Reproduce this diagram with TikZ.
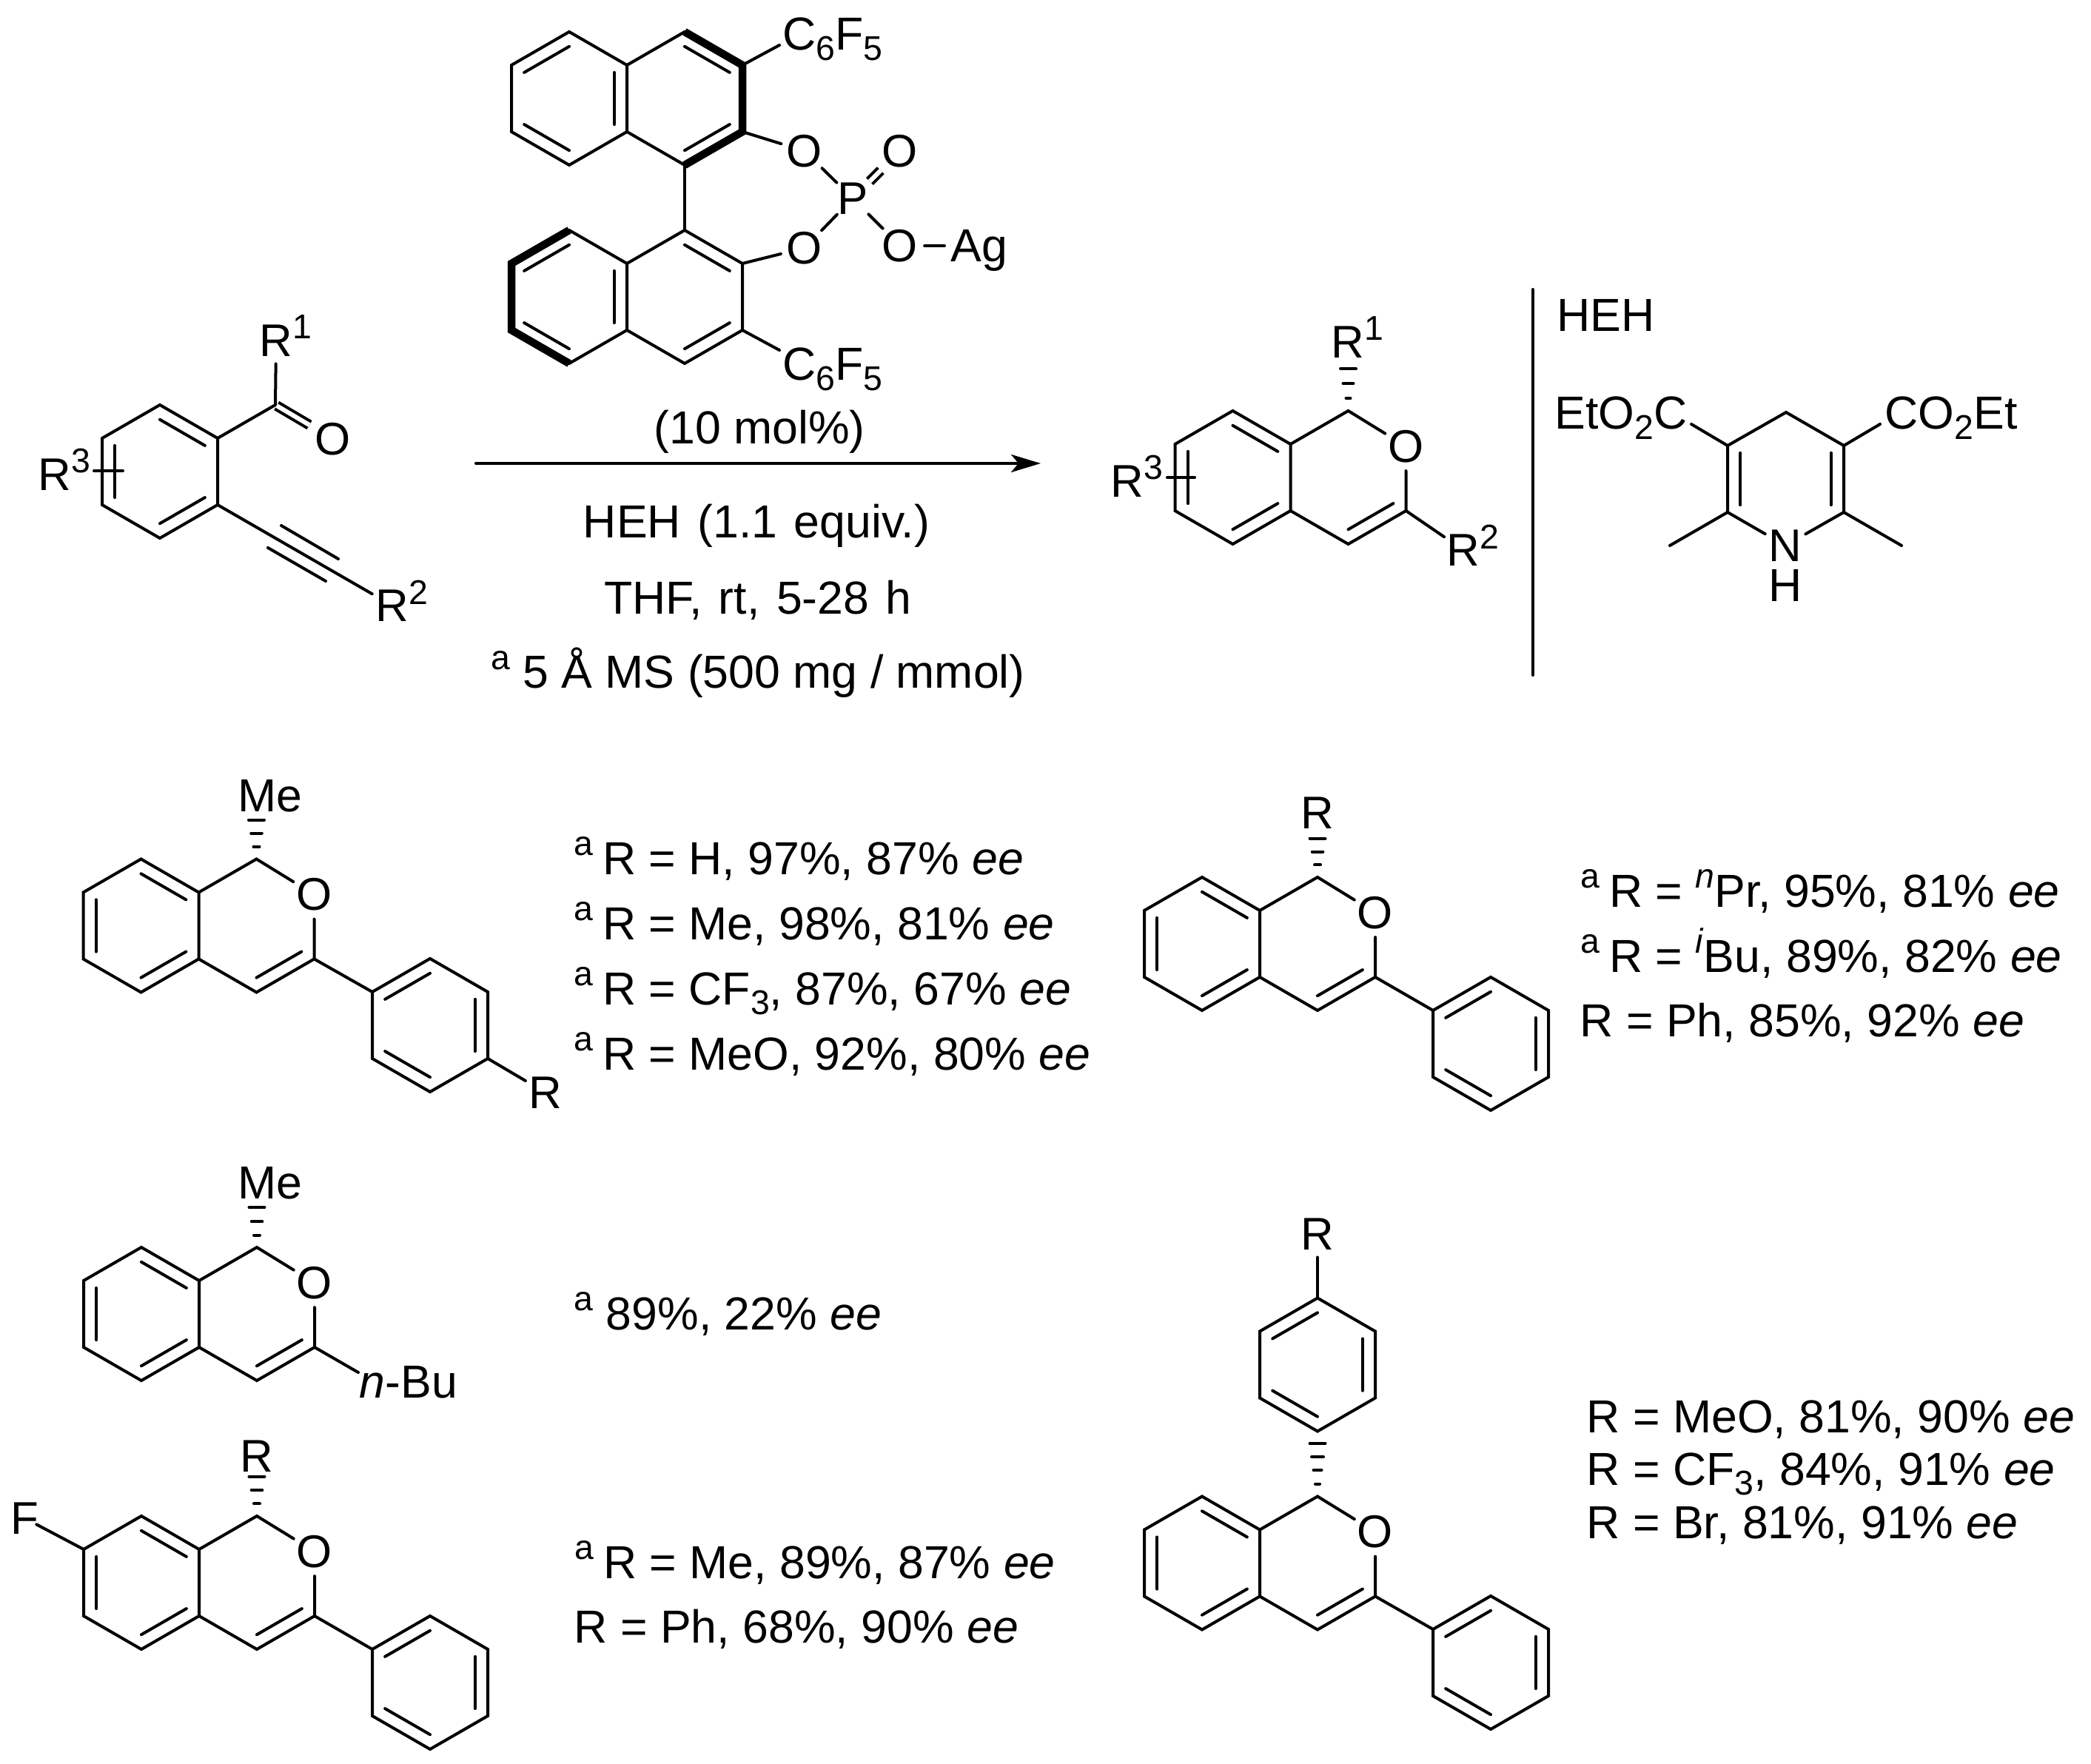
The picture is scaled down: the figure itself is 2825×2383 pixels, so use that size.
\documentclass[tikz,border=0pt]{standalone}
\usepackage{fontspec}
\setmainfont{Liberation Sans}
\usetikzlibrary{calc,arrows.meta}
\def\raisedtxt#1{\raisebox{0.41em}{\fontsize{13.2}{16}\selectfont #1}}
\def\lowtxt#1{\raisebox{-0.21em}{\fontsize{13.2}{16}\selectfont #1}}
\def\marka{\raisedtxt{a}\hspace{0.2em}}
\def\condfont{\fontsize{17.8}{21}\selectfont\spaceskip=0.36em\relax}
\tikzset{
	bond/.style={line width=0.04cm, line cap=round, line join=miter},
	boldbond/.style={line width=0.105cm, line join=miter},
	dblbond/.style={line width=0.04cm, double, double distance=0.06cm, shorten <=0.02cm, shorten >=0.04cm},
	hashline/.style={line width=0.04cm, line cap=round},
	txt/.style={font=\fontsize{17.8}{21}\selectfont, inner sep=0},
	condtxt/.style={font=\condfont, inner sep=0},
	atom/.style={font=\fontsize{17.6}{21}\selectfont, inner sep=0, circle},
	supn/.style={font=\fontsize{13.2}{16}\selectfont, inner sep=0}
}
\def\innerline(#1)(#2)(#3){\draw[bond] ($(#1)!0.78!(#2)$) -- ($(#1)!0.78!(#3)$);}
\def\hashbond(#1)#2{\foreach \dy/\hw in {#2}{\draw[hashline] ($(#1)+(-\hw,-\dy)$) -- ($(#1)+(\hw,-\dy)$);}}
\def\rgroup#1(#2,#3)#4{\node[atom] (#1) at (#2,#3) {R}; \node[supn] (#1n) at ($(#1)+(35,-18)$) {#4};}
\def\phenyl#1(#2,#3){
	\begin{scope}[shift={(#2,#3)}, name prefix=#1-]
		\coordinate (ctr) at (0,0);
		\coordinate (a) at (0,-90);
		\coordinate (b) at (78,-45);
		\coordinate (c) at (78,45);
		\coordinate (d) at (0,90);
		\coordinate (e) at (-78,45);
		\coordinate (f) at (-78,-45);
		\draw[bond] (a) -- (b) -- (c) -- (d) -- (e) -- (f) -- cycle;
		\innerline(ctr)(a)(f)
		\innerline(ctr)(b)(c)
		\innerline(ctr)(d)(e)
	\end{scope}
}
\def\isochromene#1(#2,#3){
	\begin{scope}[shift={(#2,#3)}, name prefix=#1-]
		\coordinate (ctra) at (-156,90);
		\coordinate (ctrb) at (0,90);
		\coordinate (ca) at (-156,0);
		\coordinate (cb) at (-78,45);
		\coordinate (cc) at (-78,135);
		\coordinate (cd) at (-156,180);
		\coordinate (ce) at (-234,135);
		\coordinate (cf) at (-234,45);
		\coordinate (c1) at (0,0);
		\coordinate (c3) at (78,135);
		\coordinate (c4) at (0,180);
		\node[atom] (o) at (78,48) {O};
		\draw[bond] (ca) -- (cb) -- (cc) -- (cd) -- (ce) -- (cf) -- cycle;
		\draw[bond] (cb) -- (c1) -- (o) -- (c3) -- (c4) -- (cc);
		\innerline(ctra)(ca)(cb)
		\innerline(ctra)(cc)(cd)
		\innerline(ctra)(ce)(cf)
		\innerline(ctrb)(c3)(c4)
	\end{scope}
}

\begin{document}
\begin{tikzpicture}[x=0.01cm, y=-0.01cm]
	%%%%% START %%%%%
	\useasboundingbox (0,0) rectangle (2825,2383);

	% substrate
	\coordinate (sctr) at (216,637);
	\coordinate (sa) at (216,547);
	\coordinate (sb) at (294,592);
	\coordinate (sc) at (294,682);
	\coordinate (sd) at (216,727);
	\coordinate (se) at (138,682);
	\coordinate (sf) at (138,592);
	\coordinate (sco) at (372,547);
	\draw[bond] (sa) -- (sb) -- (sc) -- (sd) -- (se) -- (sf) -- cycle;
	\innerline(sctr)(sa)(sb)
	\innerline(sctr)(sc)(sd)
	\innerline(sctr)(se)(sf)
	\rgroup{sRa}(373,460){1}
	\node[atom] (sO) at (450,593) {O};
	\draw[bond] (sb) -- (sco) -- (sRa);
	\draw[dblbond] (sco) -- (sO);
	\rgroup{sRb}(530,818){2}
	\draw[bond] (sc) -- (sRb);
	\coordinate (sya) at (380,710);
	\coordinate (syb) at (457,755);
	\coordinate (syc) at (362,740);
	\coordinate (syd) at (440,785);
	\draw[bond] (sya) -- (syb);
	\draw[bond] (syc) -- (syd);
	\rgroup{sRc}(74,641){3}
	\coordinate (sxa) at (127,636);
	\coordinate (sxb) at (166,636);
	\draw[bond] (sxa) -- (sxb);

	% catalyst
	\coordinate (ctrA) at (769,133);
	\coordinate (ctrB) at (925,133);
	\coordinate (ua) at (769,43);
	\coordinate (ub) at (847,88);
	\coordinate (uc) at (847,178);
	\coordinate (ud) at (769,223);
	\coordinate (ue) at (691,178);
	\coordinate (uf) at (691,88);
	\coordinate (ug) at (925,43);
	\coordinate (uh) at (1003,88);
	\coordinate (ui) at (1003,178);
	\coordinate (uj) at (925,223);
	\draw[bond] (ua) -- (ub) -- (uc) -- (ud) -- (ue) -- (uf) -- cycle;
	\draw[bond] (ub) -- (ug);
	\draw[bond] (uc) -- (uj);
	\draw[boldbond] (ug) -- (uh) -- (ui) -- (uj);
	\innerline(ctrA)(ua)(uf)
	\innerline(ctrA)(ud)(ue)
	\innerline(ctrA)(ub)(uc)
	\innerline(ctrB)(ug)(uh)
	\innerline(ctrB)(ui)(uj)

	\coordinate (ctrC) at (769,401);
	\coordinate (ctrD) at (925,401);
	\coordinate (la) at (769,311);
	\coordinate (lb) at (847,356);
	\coordinate (lc) at (847,446);
	\coordinate (ld) at (769,491);
	\coordinate (le) at (691,446);
	\coordinate (lf) at (691,356);
	\coordinate (lg) at (925,311);
	\coordinate (lh) at (1003,356);
	\coordinate (li) at (1003,446);
	\coordinate (lj) at (925,491);
	\draw[bond] (la) -- (lb) -- (lc) -- (ld);
	\draw[bond] (lb) -- (lg) -- (lh) -- (li) -- (lj) -- (lc);
	\draw[boldbond] (la) -- (lf) -- (le) -- (ld);
	\innerline(ctrC)(la)(lf)
	\innerline(ctrC)(ld)(le)
	\innerline(ctrC)(lb)(lc)
	\innerline(ctrD)(lg)(lh)
	\innerline(ctrD)(li)(lj)
	\draw[bond] (uj) -- (lg);

	\node[atom] (Oa) at (1087,204) {O};
	\node[atom] (Ob) at (1087,335) {O};
	\node[atom] (Pc) at (1152,268) {P};
	\node[atom] (Od) at (1216,204) {O};
	\node[atom] (Oe) at (1216,332) {O};
	\node[txt, anchor=base west] (Ag) at (1284,354) {Ag};
	\draw[bond] (ui) -- (Oa) -- (Pc) -- (Ob) -- (lh);
	\draw[bond] (Pc) -- (Oe);
	\draw[dblbond] (Pc) -- (Od);
	\draw[bond, shorten >=0.08cm] (Oe.east) -- (Oe.east -| Ag.west);
	\node[txt, anchor=base west] (cfa) at (1057,68) {C\lowtxt{6}F\lowtxt{5}};
	\node[txt, anchor=base west] (cfb) at (1057,514) {C\lowtxt{6}F\lowtxt{5}};
	\coordinate (cfaend) at (1053,61);
	\coordinate (cfbend) at (1053,473);
	\draw[bond] (uh) -- (cfaend);
	\draw[bond] (li) -- (cfbend);

	% arrow and conditions
	\node[txt, anchor=base] (cond) at (1026,600) {(10 mol\%)};
	\coordinate (arrS) at (643,626);
	\coordinate (arrE) at (1406,626);
	\draw[bond, -{Stealth[length=0.4cm, width=0.24cm, inset=0.1cm]}] (arrS) -- (arrE);
	\node[condtxt, anchor=base] (condA) at (1022,727) {HEH (1.1 equiv.)};
	\node[condtxt, anchor=base] (condB) at (1024,830) {THF, rt, 5-28 h};
	\node[txt, anchor=base] (condC) at (1024,930) {\raisedtxt{a} 5 Å MS (500 mg / mmol)};

	% product
	\isochromene{pr}(1821.5,555)
	\rgroup{pRa}(1821,462){1}
	\hashbond(pr-c1){17/3,37/7,57/10.5}
	\rgroup{pRb}(1977,743){2}
	\draw[bond] (pr-c3) -- (pRb);
	\rgroup{pRc}(1523,650){3}
	\coordinate (pxa) at (1577,645);
	\coordinate (pxb) at (1614,645);
	\draw[bond] (pxa) -- (pxb);

	% divider and HEH
	\coordinate (divA) at (2070.5,391);
	\coordinate (divB) at (2070.5,912);
	\draw[bond] (divA) -- (divB);
	\node[txt, anchor=base west] (hehlab) at (2103,447.5) {HEH};
	\coordinate (hctr) at (2412.5,647);
	\coordinate (ha) at (2413,557);
	\coordinate (hb) at (2334,602);
	\coordinate (hc) at (2491,602);
	\coordinate (hd) at (2334,692);
	\coordinate (he) at (2491,692);
	\coordinate (hmea) at (2256,737);
	\coordinate (hmeb) at (2569,737);
	\node[atom] (hN) at (2412,737) {N};
	\node[txt] (hH) at (2412,790.5) {H};
	\draw[bond] (hd) -- (hb) -- (ha) -- (hc) -- (he) -- (hN);
	\draw[bond] (hN) -- (hd);
	\draw[bond] (hd) -- (hmea);
	\draw[bond] (he) -- (hmeb);
	\innerline(hctr)(hb)(hd)
	\innerline(hctr)(hc)(he)
	\node[txt, anchor=base west] (esta) at (2100,580) {EtO\lowtxt{2}C};
	\node[txt, anchor=base west] (estb) at (2546,580) {CO\lowtxt{2}Et};
	\coordinate (estaend) at (2285,573);
	\coordinate (estbend) at (2540,573);
	\draw[bond] (hb) -- (estaend);
	\draw[bond] (hc) -- (estbend);

	% p-substituted aryl
	\isochromene{ma}(346.5,1160.5)
	\node[txt, anchor=base west] (maMe) at (320.5,1096) {Me};
	\hashbond(ma-c1){16.7/4,35/7.3,53/10.5}
	\phenyl{maph}(581,1385)
	\draw[bond] (ma-c3) -- (maph-f);
	\node[atom] (maR) at (737,1476) {R};
	\draw[bond] (maph-c) -- (maR);
	\node[txt, anchor=base west] (rowAa) at (775,1181) {\marka R = H, 97\%, 87\% \textit{ee}};
	\node[txt, anchor=base west] (rowAb) at (775,1269) {\marka R = Me, 98\%, 81\% \textit{ee}};
	\node[txt, anchor=base west] (rowAc) at (775,1357) {\marka R = CF\lowtxt{3}, 87\%, 67\% \textit{ee}};
	\node[txt, anchor=base west] (rowAd) at (775,1445) {\marka R = MeO, 92\%, 80\% \textit{ee}};

	% 3-phenyl
	\isochromene{mb}(1780,1185)
	\node[atom] (mbR) at (1780,1098) {R};
	\hashbond(mb-c1){16.7/4,34.5/7.3,52.5/10.5}
	\phenyl{mbph}(2014,1410)
	\draw[bond] (mb-c3) -- (mbph-f);
	\node[txt, anchor=base west] (rowBa) at (2135,1225) {\marka R = \raisedtxt{\textit{n}}Pr, 95\%, 81\% \textit{ee}};
	\node[txt, anchor=base west] (rowBb) at (2135,1313) {\marka R = \raisedtxt{\textit{i}}Bu, 89\%, 82\% \textit{ee}};
	\node[txt, anchor=base west] (rowBc) at (2134,1400) {R = Ph, 85\%, 92\% \textit{ee}};

	% n-Bu
	\isochromene{mc}(347,1685)
	\node[txt, anchor=base west] (mcMe) at (320.5,1619.5) {Me};
	\hashbond(mc-c1){16.5/4,35/7.3,54/10.5}
	\node[txt, anchor=base west] (mcBu) at (485,1888) {\textit{n}-Bu};
	\coordinate (mcend) at (484,1854);
	\draw[bond] (mc-c3) -- (mcend);
	\node[txt, anchor=base west] (rowC) at (775,1796.5) {\raisedtxt{a} 89\%, 22\% \textit{ee}};

	% fluoro
	\isochromene{md}(347,2048)
	\node[atom] (mdR) at (347,1967) {R};
	\hashbond(md-c1){16.6/4,35/7.3,53.4/10.5}
	\phenyl{mdph}(581,2273)
	\draw[bond] (md-c3) -- (mdph-f);
	\node[atom, inner sep=-0.08cm] (mdF) at (33.5,2051) {F};
	\draw[bond] (md-cf) -- (mdF);
	\node[txt, anchor=base west] (rowDa) at (776,2132) {\marka R = Me, 89\%, 87\% \textit{ee}};
	\node[txt, anchor=base west] (rowDb) at (775,2219) {R = Ph, 68\%, 90\% \textit{ee}};

	% 1-aryl
	\isochromene{me}(1780,2021.5)
	\phenyl{metol}(1780,1843.5)
	\hashbond(me-c1){17/3,35.5/5.5,53.5/8,71.5/10.5}
	\node[atom] (meR) at (1780,1667) {R};
	\draw[bond] (metol-a) -- (meR);
	\phenyl{meph}(2014,2246)
	\draw[bond] (me-c3) -- (meph-f);
	\node[txt, anchor=base west] (rowEa) at (2143,1935) {R = MeO, 81\%, 90\% \textit{ee}};
	\node[txt, anchor=base west] (rowEb) at (2143,2006) {R = CF\lowtxt{3}, 84\%, 91\% \textit{ee}};
	\node[txt, anchor=base west] (rowEc) at (2143,2078) {R = Br, 81\%, 91\% \textit{ee}};
	%%%%% END %%%%%
\end{tikzpicture}
\end{document}
